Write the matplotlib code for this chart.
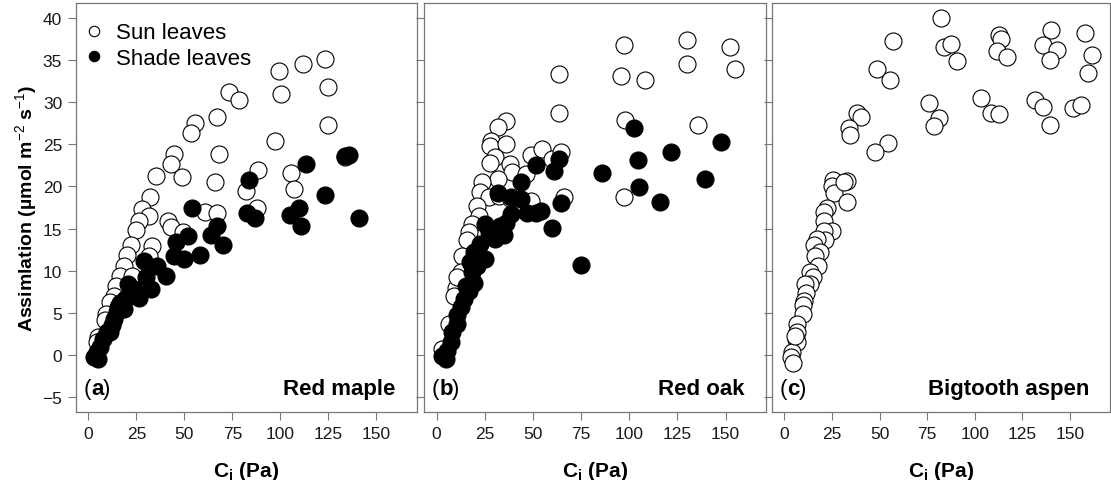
"""Photosynthetic response to intercellular CO2 for sun and shade leaves of three tree species."""

import matplotlib
matplotlib.use("Agg")
import matplotlib.pyplot as plt
from matplotlib.lines import Line2D

plt.rcParams["font.family"] = ["Liberation Sans", "DejaVu Sans"]
plt.rcParams["mathtext.fontset"] = "custom"
plt.rcParams["mathtext.rm"] = "Liberation Sans"
plt.rcParams["mathtext.bf"] = "Liberation Sans:bold"
plt.rcParams["mathtext.it"] = "Liberation Sans:italic"

# Section: values (Ci in Pa, assimilation in umol m-2 s-1).
maple_sun_ci = [123.4, 111.6, 99.1, 100.3, 124.8, 124.8, 73.0, 78.7, 67.1, 55.6, 53.5, 97.3,
                67.8, 44.6, 42.8, 133.8, 35.3, 48.8, 88.6, 105.7, 82.2, 106.9, 66.0, 32.2,
                27.8, 31.8, 26.1, 24.9, 61.0, 66.9, 88.1, 41.7, 43.1, 49.2, 22.3, 20.0,
                18.6, 33.1, 31.8, 16.5, 14.5, 13.1, 11.4, 9.2, 8.7, 5.2, 4.3, 22.6]
maple_sun_a = [35.1, 34.5, 33.7, 31.0, 31.8, 27.3, 31.2, 30.3, 28.3, 27.5, 26.4, 25.4,
               23.9, 23.9, 22.7, 23.5, 21.3, 21.1, 22.0, 21.6, 19.5, 19.7, 20.5, 18.7,
               17.3, 16.5, 15.9, 14.8, 17.0, 16.8, 17.4, 15.9, 15.2, 14.6, 13.0, 11.9,
               10.6, 12.9, 11.8, 9.4, 8.2, 7.0, 6.25, 4.9, 4.1, 2.1, 1.5, 9.4]
maple_shade_ci = [135.6, 133.8, 113.3, 123.4, 140.8, 83.8, 82.6, 86.9, 104.8, 110.0, 110.9,
                  54.1, 67.1, 63.9, 70.1, 51.8, 45.5, 57.9, 44.7, 49.9, 28.7, 35.6, 40.3,
                  32.5, 30.1, 26.1, 20.8, 23.5, 19.1, 16.5, 18.3, 14.8, 13.1, 12.2, 9.6,
                  7.8, 6.1, 4.3, 4.9, 3.0, 11.3, 15.6]
maple_shade_a = [23.7, 23.6, 22.7, 19.0, 16.2, 20.8, 16.8, 16.3, 16.6, 17.5, 15.3,
                 17.5, 15.3, 14.2, 13.1, 14.1, 13.4, 11.9, 11.7, 11.4, 11.2, 10.6, 9.4,
                 7.8, 9.2, 6.8, 8.4, 7.8, 6.6, 6.2, 5.5, 5.1, 4.3, 3.5, 2.7,
                 1.9, 0.9, 0.3, -0.5, -0.3, 2.7, 5.7]

oak_sun_ci = [130.1, 152.2, 97.2, 130.1, 154.8, 95.8, 108.1, 63.7, 63.7, 97.8, 135.8, 97.2,
              66.4, 35.8, 31.8, 28.5, 28.0, 35.8, 30.3, 28.0, 38.1, 39.3, 48.8, 54.8,
              59.7, 64.4, 46.2, 31.8, 23.7, 22.5, 27.2, 21.1, 48.8, 21.9, 18.5, 16.8,
              15.9, 13.3, 12.5, 9.9, 9.0, 6.4, 2.9, 10.7, 32.4, 38.4]
oak_sun_a = [37.4, 36.6, 36.8, 34.5, 33.9, 33.1, 32.6, 33.4, 28.7, 27.9, 27.3, 18.7,
             18.7, 27.8, 27.1, 25.4, 24.8, 25.0, 23.5, 22.8, 22.7, 21.7, 23.7, 24.4,
             23.3, 24.1, 21.5, 20.9, 20.5, 19.4, 18.7, 17.7, 18.3, 16.5, 15.5, 14.6,
             13.6, 11.8, 9.8, 8.0, 7.0, 3.7, 0.7, 9.2, 18.9, 18.5]
oak_shade_ci = [147.9, 102.4, 121.5, 104.5, 86.0, 139.6, 105.0, 115.9, 75.1, 63.5, 51.4,
                60.9, 43.9, 64.4, 59.7, 31.8, 38.4, 43.6, 47.1, 54.0, 51.4, 38.4, 35.8,
                25.4, 27.2, 34.9, 30.6, 22.8, 25.4, 19.4, 21.1, 18.5, 19.4, 16.8, 14.2,
                12.5, 10.7, 10.7, 8.1, 7.3, 5.5, 4.7, 2.9, 15.1, 17.6, 33.2]
oak_shade_a = [25.3, 27.0, 24.1, 23.1, 21.6, 20.9, 19.9, 18.2, 10.7, 23.3, 22.5,
               21.8, 20.5, 18.0, 15.1, 19.2, 18.8, 18.5, 16.9, 17.1, 16.9, 16.7, 15.7,
               15.5, 14.6, 14.2, 13.8, 13.2, 11.4, 12.2, 10.6, 9.8, 8.6, 7.6, 6.6,
               5.7, 4.7, 3.7, 2.7, 1.5, 0.5, -0.5, -0.1, 8.2, 11.0, 15.3]

aspen_sun_ci = [82.4, 140.2, 157.7, 112.8, 113.9, 56.9, 83.8, 87.6, 135.6, 111.8, 143.3,
                116.7, 161.7, 90.4, 139.5, 159.6, 48.4, 55.4, 103.0, 76.0, 131.4, 135.9,
                151.6, 155.9, 108.3, 112.7, 81.1, 78.7, 139.5, 38.2, 40.0, 33.8, 34.7,
                54.5, 47.8, 25.6, 25.1, 25.9, 32.9, 31.2, 32.9, 22.4, 20.7, 20.7, 25.1,
                21.0, 21.5, 17.2, 15.8, 18.6, 16.3, 17.5, 13.7, 15.1, 13.7, 11.0, 11.6,
                10.2, 9.8, 9.8, 6.7, 6.7, 6.3, 6.7, 4.0, 3.7, 4.6, 5.8]
aspen_sun_a = [40.0, 38.6, 38.2, 38.0, 37.5, 37.3, 36.6, 36.9, 36.8, 36.1, 36.2,
               35.4, 35.6, 34.9, 35.0, 33.5, 33.9, 32.6, 30.5, 29.9, 30.3, 29.4,
               29.3, 29.7, 28.7, 28.6, 28.1, 27.2, 27.3, 28.7, 28.3, 26.9, 26.1,
               25.2, 24.1, 20.8, 20.0, 19.2, 20.7, 20.5, 18.1, 17.4, 17.0, 15.9, 14.7,
               14.7, 13.7, 13.8, 13.0, 12.2, 11.8, 10.6, 9.8, 9.2, 8.4, 8.4, 7.4,
               6.4, 5.9, 4.9, 3.7, 2.7, 1.9, 1.5, 0.3, -0.3, -0.9, 2.3]

panel_letters = ["a", "b", "c"]
panel_species = ["Red maple", "Red oak", "Bigtooth aspen"]
x_ticks = [0, 25, 50, 75, 100, 125, 150]
y_ticks = [-5, 0, 5, 10, 15, 20, 25, 30, 35, 40]

# Section: layout in pixels for a 1111 x 481 figure.
FIG_W, FIG_H = 1111, 481
PANEL_X = [(76, 416.5), (424, 766), (772, 1110)]
PANEL_TOP, PANEL_BOTTOM = 4, 413
FRAME = "#777777"
MARKER_SIZE = 150


def draw_panel(ax, sun_ci, sun_a, shade_ci, shade_a, letter, species, show_ylabels):
    ax.scatter(sun_ci, sun_a, s=MARKER_SIZE, facecolor="white",
               edgecolor="black", linewidth=0.8, zorder=3)
    if shade_ci:
        # shade leaves are drawn over the sun leaves in the original
        ax.scatter(shade_ci, shade_a, s=MARKER_SIZE, facecolor="black",
                   edgecolor="black", linewidth=0.8, zorder=4)

    ax.set_xlim(-6.5, 171)
    ax.set_ylim(-6.77, 41.78)
    ax.set_xticks(x_ticks)
    ax.set_yticks(y_ticks)
    ax.set_yticklabels([("\u2212%d" % -v) if v < 0 else str(v) for v in y_ticks])
    if not show_ylabels:
        ax.tick_params(axis="y", labelleft=False)
    ax.tick_params(direction="out", length=6, width=0.8, color=FRAME,
                   labelsize=12.5, labelcolor="#1a1a1a", pad=4)
    for spine in ax.spines.values():
        spine.set_color(FRAME)
        spine.set_linewidth(0.9)

    ax.set_xlabel(r"$\mathbf{C_i}$ (Pa)", fontsize=15, fontweight="bold", labelpad=13)
    ax.text(-2.5, -4.0, "(", fontsize=16, va="center", ha="left")
    ax.text(1.6, -4.0, letter, fontsize=16, fontweight="bold", va="center", ha="left")
    ax.text(1.6 + (5.9 if letter != "b" else 6.3), -4.0, ")", fontsize=16, va="center", ha="left")
    ax.text(160, -4.0, species, fontsize=16, fontweight="bold", va="center", ha="right")


def main() -> None:
    fig = plt.figure(figsize=(FIG_W / 100, FIG_H / 100), dpi=100)
    axes = []
    for left, right in PANEL_X:
        axes.append(fig.add_axes([left / FIG_W, 1 - PANEL_BOTTOM / FIG_H,
                                  (right - left) / FIG_W, (PANEL_BOTTOM - PANEL_TOP) / FIG_H]))

    draw_panel(axes[0], maple_sun_ci, maple_sun_a, maple_shade_ci, maple_shade_a,
               panel_letters[0], panel_species[0], True)
    draw_panel(axes[1], oak_sun_ci, oak_sun_a, oak_shade_ci, oak_shade_a,
               panel_letters[1], panel_species[1], False)
    draw_panel(axes[2], aspen_sun_ci, aspen_sun_a, [], [],
               panel_letters[2], panel_species[2], False)

    axes[0].set_ylabel("Assimlation (\u00b5mol m$^{-2}$ s$^{-1}$)",
                       fontsize=14, fontweight="bold", labelpad=2)

    handles = [
        Line2D([], [], linestyle="none", marker="o", markersize=7.5, markerfacecolor="white",
               markeredgecolor="black", markeredgewidth=0.8, label="Sun leaves"),
        Line2D([], [], linestyle="none", marker="o", markersize=7.5, markerfacecolor="black",
               markeredgecolor="black", markeredgewidth=0.8, label="Shade leaves"),
    ]
    axes[0].legend(handles=handles, loc="upper left", bbox_to_anchor=(-0.012, 0.985),
                   frameon=False, fontsize=16, handlelength=0.8, handletextpad=0.6,
                   borderaxespad=0.3, labelspacing=0.2, borderpad=0.3)

    fig.savefig("out.png", dpi=100)
    plt.close(fig)


if __name__ == "__main__":
    main()
